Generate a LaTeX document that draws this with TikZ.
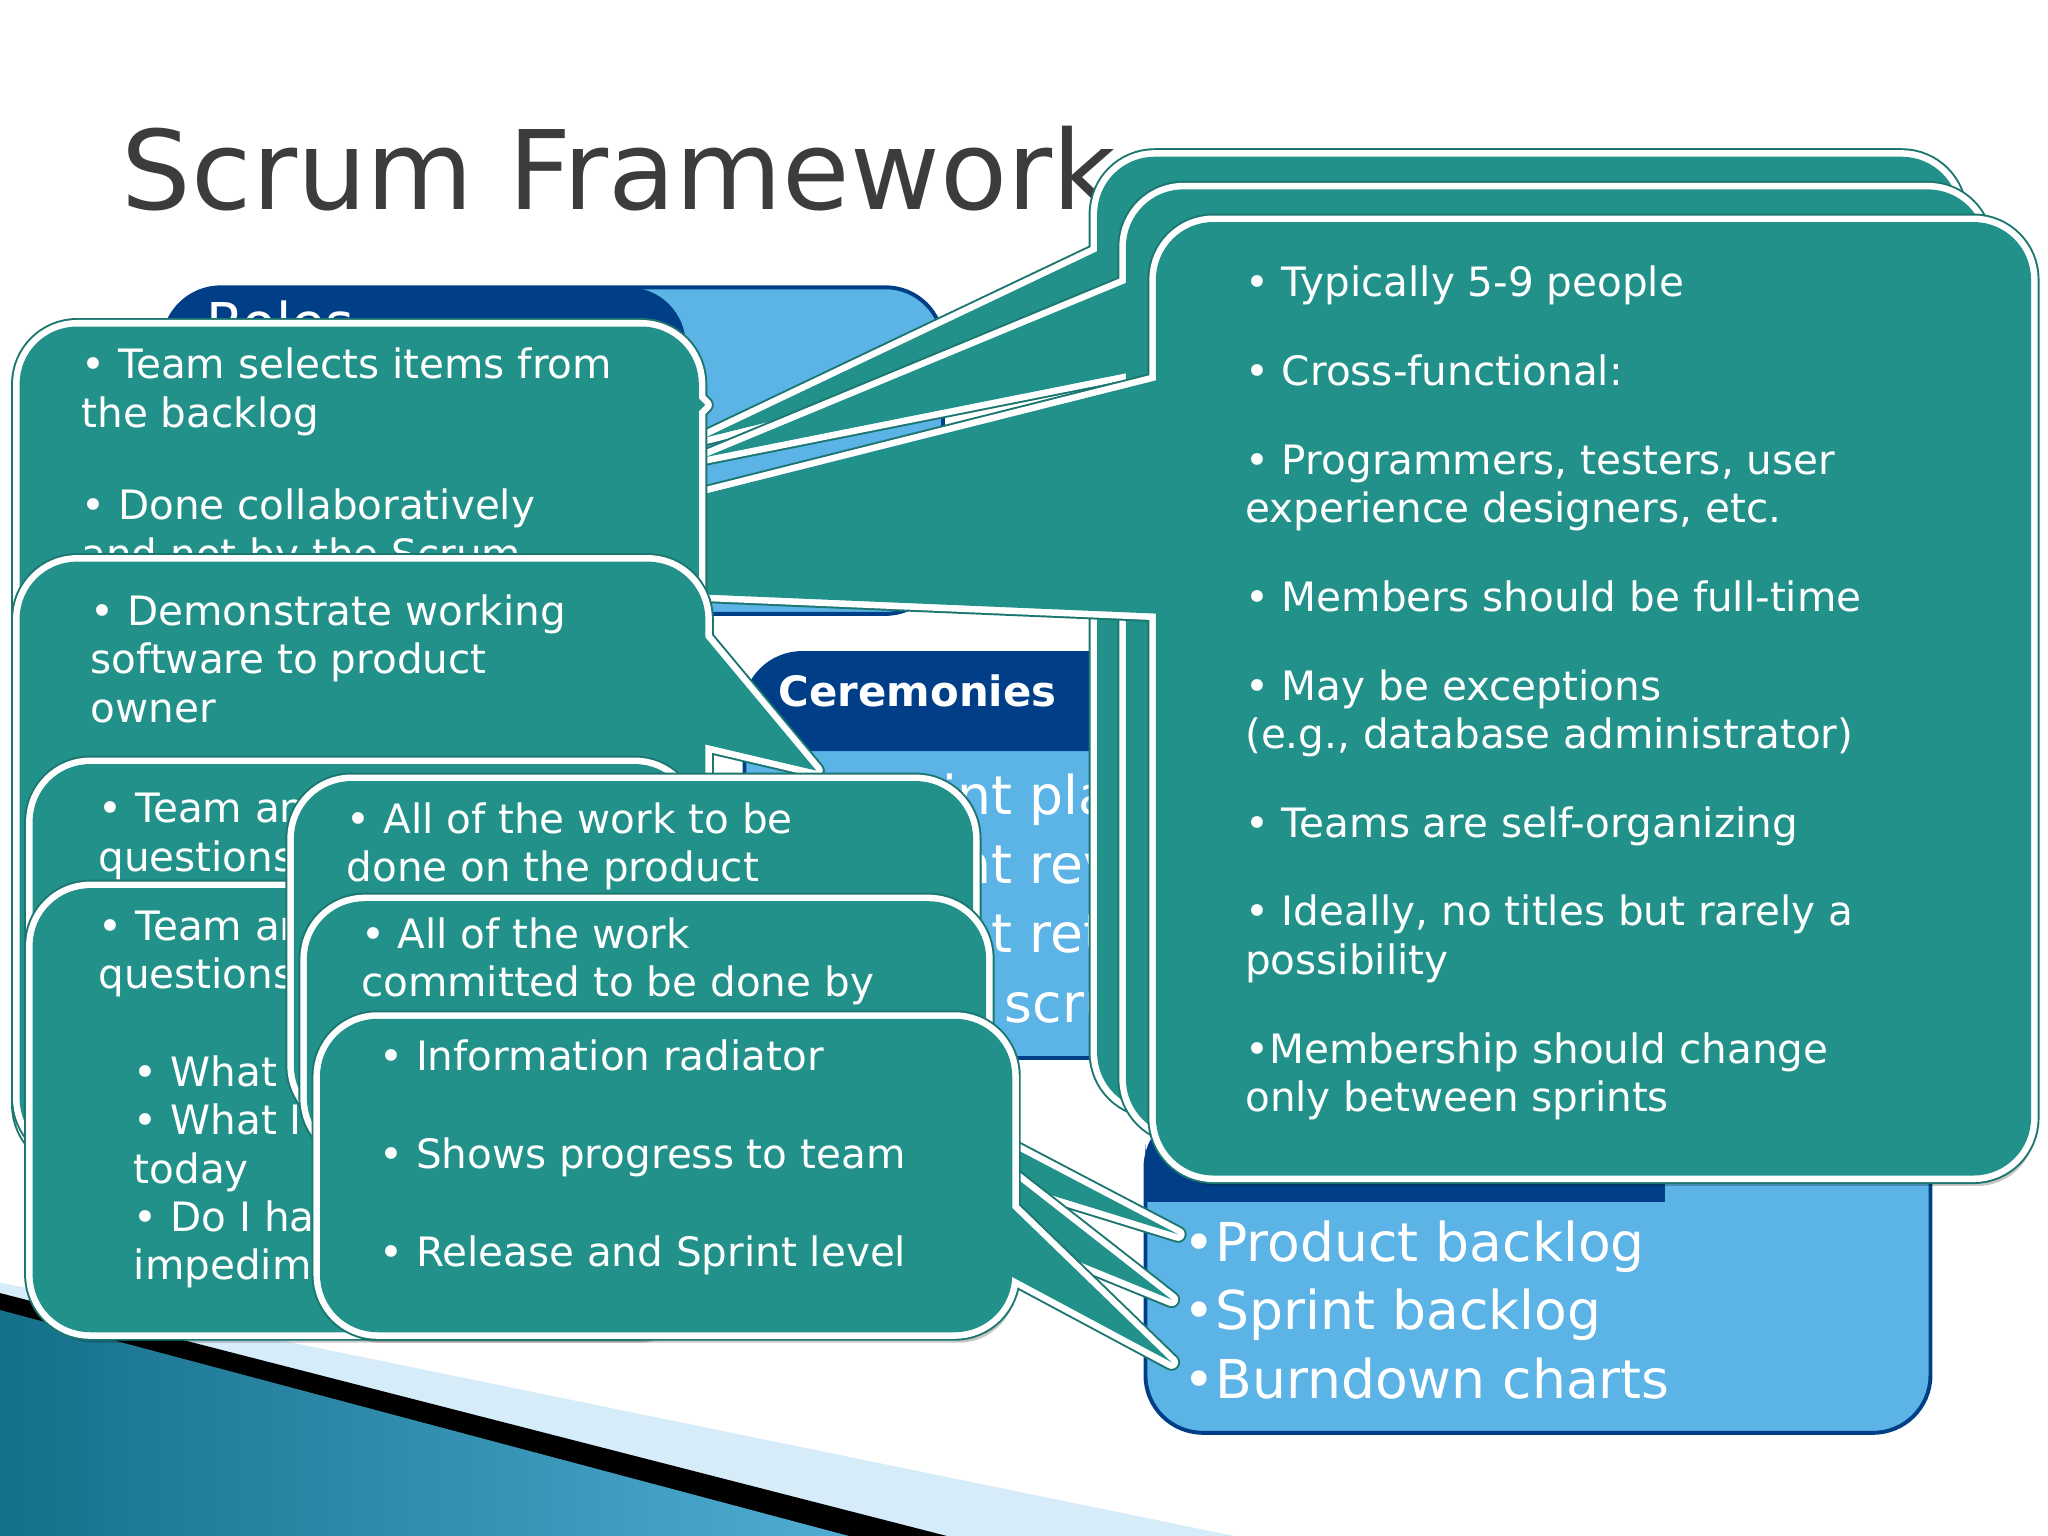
\documentclass[tikz,border=0pt]{standalone}
\usepackage{fontspec}
\setmainfont{DejaVu Sans}
\definecolor{cteal}{HTML}{22918A}
\definecolor{cedge}{HTML}{1B7670}
\definecolor{dblue}{HTML}{003F87}
\definecolor{lblue}{HTML}{5BB3E6}
\definecolor{ttl}{HTML}{3C3C3C}
\newcommand\tb{\fontsize{15.5}{18.5}\selectfont}
\newcommand\tbig{\fontsize{21}{26}\selectfont}
\newcommand\mycallout[2]{%
 \fill[black,opacity=.22,shift={(3,8)},rounded corners=22pt] #1;
 \draw[cedge,line width=6.5pt,rounded corners=22pt] #1;
 \draw[cedge,line width=6.5pt,line join=round] #2;
 \draw[white,line width=5pt,rounded corners=22pt] #1;
 \draw[white,line width=5pt,line join=round] #2;
 \fill[cteal,rounded corners=22pt] #1;
 \fill[cteal] #2;
}
\tikzset{txt/.style={inner sep=0pt,anchor=north west,align=left,text=white,font=\tb}}
\begin{document}
\begin{tikzpicture}[x=0.5pt,y=-0.5pt]
\useasboundingbox (0,0) rectangle (1568,1176);
\fill[white] (0,0) rectangle (1568,1176);
% title
\node[inner sep=0pt,anchor=north west,text=ttl,font=\fontsize{42}{48}\selectfont] (title) at (93,96) {Scrum Framework};
% bottom decoration
\fill[lblue!25] (0,982) -- (945,1176) -- (0,1176) -- cycle;
\fill[black] (0,990) -- (725,1176) -- (0,1176) -- cycle;
\shade[left color=cteal!60!dblue,right color=lblue!80!cteal] (0,1003) -- (650,1176) -- (0,1176) -- cycle;
% roles box
\fill[lblue,rounded corners=22pt] (125,220) rectangle (722,470);
\fill[dblue,rounded corners=22pt] (125,220) -- (525,220) [sharp corners] -- (525,470) [rounded corners=22pt] -- (125,470) -- cycle;
\draw[dblue,line width=1.5pt,rounded corners=22pt] (125,220) rectangle (722,470);
\node[txt,font=\tbig] (roles) at (158,230) {Roles};
% ceremonies box
\fill[lblue,rounded corners=22pt] (570,500) rectangle (886,810);
\fill[dblue,rounded corners=22pt] (570,500) -- (886,500) -- (886,575) -- (570,575) -- cycle;
\fill[dblue] (570,545) rectangle (886,575);
\draw[dblue,line width=1.5pt,rounded corners=22pt] (570,500) rectangle (886,810);
\node[txt,font=\fontsize{16}{20}\selectfont\bfseries] (cer) at (596,516) {Ceremonies};
\node[txt,font=\fontsize{20.5}{26.5}\selectfont] (certxt) at (628,592) {•Sprint planning\\•Sprint review\\•Sprint retrospective\\•Daily scrum meeting};
% artifacts box
\fill[lblue,rounded corners=22pt] (877,850) rectangle (1478,1097);
\fill[dblue,rounded corners=22pt] (877,850) -- (1275,850) -- (1275,920) -- (877,920) -- cycle;
\fill[dblue] (877,890) rectangle (1275,920);
\draw[dblue,line width=1.5pt,rounded corners=22pt] (877,850) rectangle (1478,1097);
\node[txt,font=\fontsize{16}{20}\selectfont\bfseries] (art) at (906,866) {Artifacts};
\node[txt,font=\fontsize{20.5}{26.2}\selectfont] (arttxt) at (906,934) {•Product backlog\\•Sprint backlog\\•Burndown charts};
% big team callouts
\mycallout{(840,120) rectangle (1500,850)}{(845,190) -- (540,335) -- (845,260) -- cycle}
\mycallout{(862,145) rectangle (1520,870)}{(866,215) -- (540,350) -- (866,285) -- cycle}
\mycallout{(885,170) rectangle (1555,900)}{(890,290) -- (540,378) -- (535,455) -- (890,470) -- cycle}
\node[txt] (team) at (953,203) {• Typically 5-9 people\\[15.5pt]
• Cross-functional:\\[15.5pt]
• Programmers, testers, user\\experience designers, etc.\\[15.5pt]
• Members should be full-time\\[15.5pt]
• May be exceptions\\(e.g., database administrator)\\[15.5pt]
• Teams are self-organizing\\[15.5pt]
• Ideally, no titles but rarely a\\possibility\\[15.5pt]
•Membership should change\\only between sprints};
% left callouts
\mycallout{(15,250) rectangle (535,890)}{(530,300) -- (540,310) -- (530,320) -- cycle}
\node[txt] (sel) at (62,266) {• Team selects items from\\the backlog\\[17pt]• Done collaboratively\\and not by the Scrum\\master};
\mycallout{(15,430) rectangle (540,885)}{(525,470) -- (625,590) -- (540,570) -- cycle}
\node[txt] (demo) at (69,455) {• Demonstrate working\\software to product\\owner};
\mycallout{(25,585) rectangle (530,900)}{(520,650) -- (525,655) -- (520,660) -- cycle}
\node[txt] (ta1) at (75,606) {• Team answers three\\questions};
\mycallout{(25,680) rectangle (530,1020)}{(520,750) -- (525,755) -- (520,760) -- cycle}
\node[txt] (ta2) at (75,696) {• Team answers three\\questions};
\node[txt] (ta3) at (102,808) {• What did I do yesterday\\• What I will do\\today\\• Do I have any\\impediments};
% work callouts
\mycallout{(225,598) rectangle (745,860)}{(740,860) -- (902,945) -- (740,895) -- cycle}
\node[txt] (w1) at (265,614) {• All of the work to be\\done on the product};
\mycallout{(235,690) rectangle (755,885)}{(750,880) -- (897,995) -- (750,935) -- cycle}
\node[txt] (w2) at (276,702) {• All of the work\\committed to be done by\\the team this sprint};
\mycallout{(245,780) rectangle (775,1020)}{(770,920) -- (897,1043) -- (770,975) -- cycle}
\node[txt] (info) at (290,796) {• Information radiator\\[19pt]• Shows progress to team\\[19pt]• Release and Sprint level};
\end{tikzpicture}
\end{document}
